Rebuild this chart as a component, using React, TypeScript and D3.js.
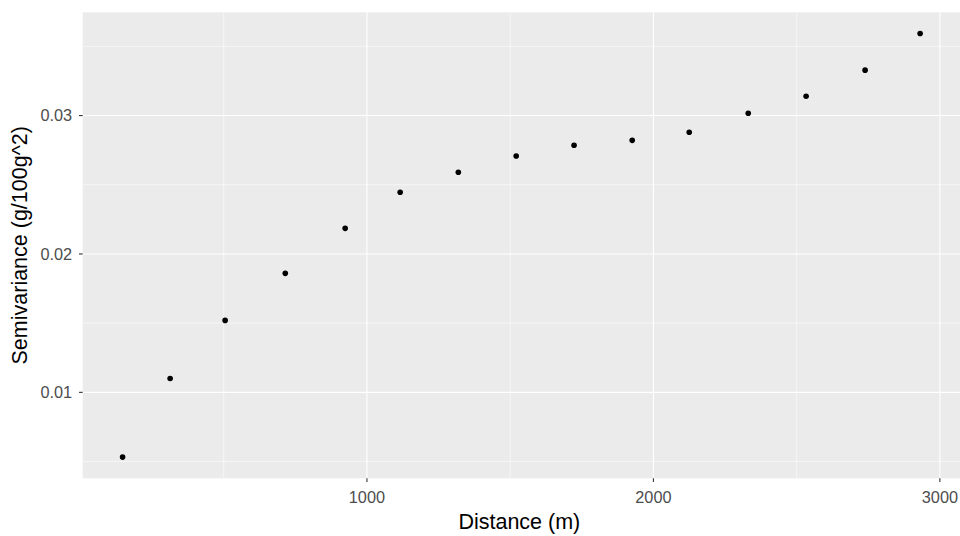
import React from "react";
import * as d3 from "d3";

const distances = [147, 313, 505, 715, 924, 1116, 1319, 1521, 1723, 1926, 2125, 2331, 2533, 2739, 2931];
const semivariance = [0.00532, 0.0110, 0.0152, 0.0186, 0.02185, 0.02446, 0.0259, 0.02708, 0.02785, 0.02821, 0.02879, 0.03017, 0.0314, 0.03328, 0.03593];
const xTicks = [1000, 2000, 3000];
const xMinor = [500, 1500, 2500];
const yTicks = [0.01, 0.02, 0.03];
const yMinor = [0.005, 0.015, 0.025, 0.035];
const xTitle = "Distance (m)";
const yTitle = "Semivariance (g/100g^2)";

const W = 960;
const H = 536;
const left = 82.7;
const right = 960;
const top = 12.3;
const bottom = 478.3;

function expand(vals: number[]): [number, number] {
  const [a, b] = d3.extent(vals) as [number, number];
  const s = (b - a) * 0.05;
  return [a - s, b + s];
}

export default function App() {
  const x = d3.scaleLinear().domain(expand(distances)).range([left, right]);
  const y = d3.scaleLinear().domain(expand(semivariance)).range([bottom, top]);
  const font = "'Liberation Sans', Arial, sans-serif";
  return (
    <svg width={W} height={H} style={{ position: "absolute", left: 0, top: 0 }} fontFamily={font}>
      <rect x={0} y={0} width={W} height={H} fill="#fff" />
      <rect x={left} y={top} width={right - left} height={bottom - top} fill="#EBEBEB" />
      {yMinor.map((v) => (
        <line key={"ym" + v} x1={left} x2={right} y1={y(v)} y2={y(v)} stroke="#fff" strokeWidth={0.55} />
      ))}
      {xMinor.map((v) => (
        <line key={"xm" + v} y1={top} y2={bottom} x1={x(v)} x2={x(v)} stroke="#fff" strokeWidth={0.55} />
      ))}
      {yTicks.map((v) => (
        <line key={"yM" + v} x1={left} x2={right} y1={y(v)} y2={y(v)} stroke="#fff" strokeWidth={1.1} />
      ))}
      {xTicks.map((v) => (
        <line key={"xM" + v} y1={top} y2={bottom} x1={x(v)} x2={x(v)} stroke="#fff" strokeWidth={1.1} />
      ))}
      {distances.map((d, i) => (
        <circle key={i} cx={x(d)} cy={y(semivariance[i])} r={2.8} fill="#000" />
      ))}
      {xTicks.map((v) => (
        <g key={"xt" + v}>
          <line x1={x(v)} x2={x(v)} y1={bottom} y2={bottom + 3.7} stroke="#333" strokeWidth={1.1} />
          <text x={x(v)} y={bottom + 25} textAnchor="middle" fontSize={16.3} fill="#4D4D4D">
            {d3.format("d")(v)}
          </text>
        </g>
      ))}
      {yTicks.map((v) => (
        <g key={"yt" + v}>
          <line x1={left - 3.7} x2={left} y1={y(v)} y2={y(v)} stroke="#333" strokeWidth={1.1} />
          <text x={left - 10.5} y={y(v)} dy="0.36em" textAnchor="end" fontSize={16.3} fill="#4D4D4D">
            {d3.format(".2f")(v)}
          </text>
        </g>
      ))}
      <text x={(left + right) / 2 - 2} y={529.3} textAnchor="middle" fontSize={21.5} fill="#000">
        {xTitle}
      </text>
      <text
        transform={`translate(${27},${(top + bottom) / 2}) rotate(-90)`}
        textAnchor="middle"
        fontSize={21.5}
        fill="#000"
      >
        {yTitle}
      </text>
    </svg>
  );
}
